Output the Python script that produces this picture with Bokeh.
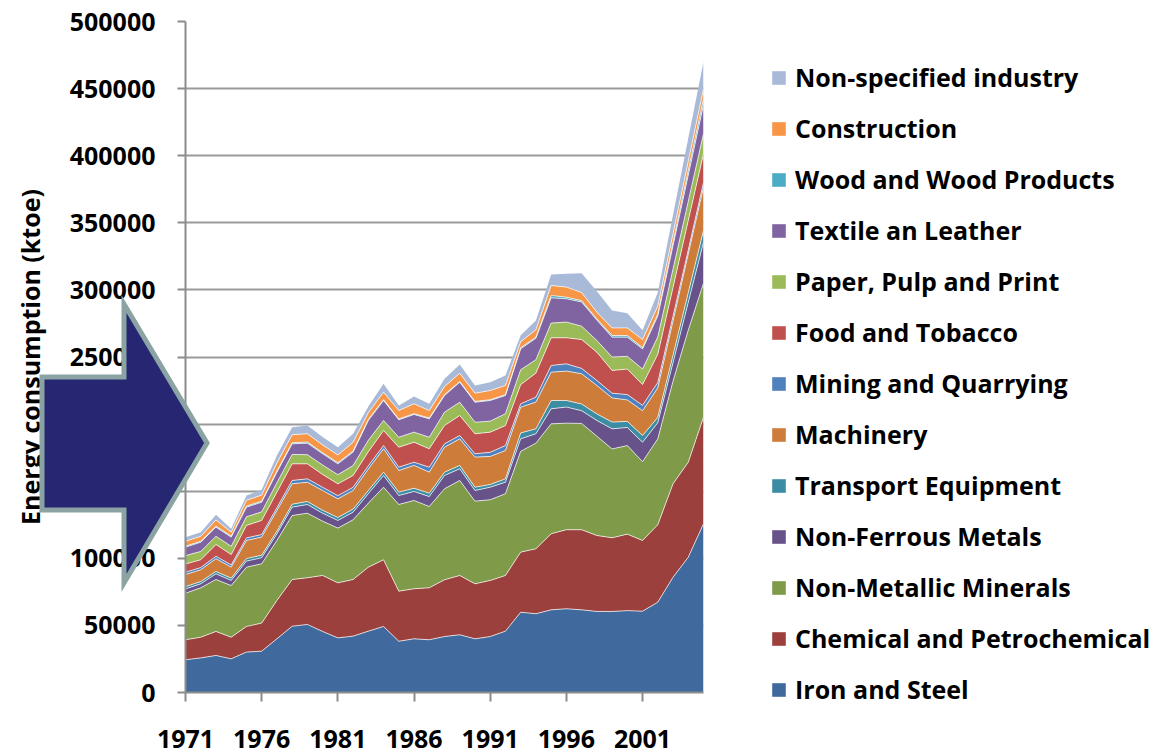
from bokeh.plotting import figure
from bokeh.models import (ColumnDataSource, Legend, LegendItem, FixedTicker, GridBox, Div,
                          SingleIntervalTicker, Range1d, BasicTickFormatter)
from bokeh.transform import stack
from bokeh.embed import file_html
from bokeh.resources import INLINE

years = list(range(1971, 2006))

iron_and_steel = [24400, 25800, 27600, 25100, 30100, 30800, 40000, 49400, 50700, 45500,
                  40700, 42000, 45700, 49200, 38200, 40000, 39300, 41700, 43000, 40000,
                  41700, 45700, 59800, 58700, 61600, 62400, 61600, 60400, 60400, 61000,
                  60600, 67300, 85900, 100800, 125700]
chemical = [14900, 15400, 17900, 16100, 19100, 20900, 28600, 34800, 34800, 41700,
            41000, 42200, 47700, 49700, 37300, 37300, 38700, 42300, 44200, 41000,
            41800, 41500, 44800, 48400, 56700, 58900, 59700, 56600, 54900, 57000,
            52700, 57700, 69600, 70800, 79400]
non_metallic = [34700, 36800, 38700, 38500, 44200, 44200, 44700, 47700, 48100, 40500,
                40800, 44500, 47700, 54100, 64600, 65800, 60600, 67800, 70800, 61600,
                60100, 60900, 75100, 78700, 81900, 79400, 79200, 74000, 66200, 66000,
                58700, 64000, 76500, 98400, 99900]
non_ferrous = [3200, 3000, 4200, 3800, 4500, 4500, 4900, 6200, 6500, 5900,
               5700, 5700, 7000, 8700, 6700, 6700, 7400, 9900, 8700, 7900,
               9400, 8600, 9300, 7000, 11200, 12000, 9500, 11700, 15000, 13500,
               14500, 12000, 13800, 20700, 30500]
transport = [1700, 1700, 1800, 1700, 1900, 1900, 2000, 2200, 2200, 2200,
             2200, 2300, 2400, 2500, 2500, 2400, 2500, 2500, 2500, 2500,
             2000, 2500, 4400, 3700, 6200, 4900, 5000, 4900, 5000, 4500,
             5000, 4000, 5600, 7200, 8800]
machinery = [9000, 8700, 9500, 8200, 13500, 13500, 15400, 15200, 14400, 14700,
             13900, 13800, 16000, 17400, 16100, 17000, 15700, 18600, 19800, 22400,
             20900, 21100, 19200, 19900, 21100, 21900, 22500, 21200, 18000, 16000,
             18500, 22000, 25400, 28800, 32200]
mining = [1700, 1700, 1800, 1700, 1900, 1900, 2100, 2500, 2500, 2400,
          2400, 2400, 2400, 2400, 2500, 2400, 3700, 2500, 2500, 2500,
          3100, 3700, 2500, 3700, 5000, 5400, 4000, 3700, 3500, 4000,
          4000, 4000, 3500, 3000, 3500]
food = [6200, 5800, 8800, 7700, 9300, 10500, 11600, 12400, 11200, 9600,
        8800, 8800, 10500, 11200, 14900, 14900, 13700, 13600, 14900, 14900,
        15000, 14900, 14300, 17900, 20600, 19400, 21500, 21100, 17000, 19000,
        15500, 21000, 21500, 22000, 21500]
paper = [6200, 6200, 6100, 6100, 6400, 6400, 7000, 7000, 6800, 7000,
         6800, 7400, 8500, 7500, 7400, 7500, 8600, 10000, 9900, 8600,
         8200, 8800, 11100, 10000, 11000, 11700, 10000, 8700, 10000, 9500,
         11500, 13000, 13700, 14200, 14900]
textile = [6300, 6900, 6800, 6900, 7200, 7200, 7900, 7900, 8600, 8400,
           8100, 10000, 14800, 14900, 13000, 13200, 13700, 12400, 14900, 14900,
           15400, 13600, 15600, 16000, 18800, 17400, 18000, 15200, 14800, 14300,
           15000, 15500, 17500, 19600, 21600]
wood = [700, 700, 800, 700, 800, 800, 800, 800, 800, 800,
        800, 900, 800, 600, 600, 600, 600, 600, 600, 600,
        600, 600, 800, 800, 1800, 1200, 1000, 900, 1200, 1200,
        1000, 1500, 2500, 3400, 4400]
construction = [3700, 3700, 4600, 3000, 4300, 4500, 6000, 6000, 6200, 5800,
                5800, 6400, 5000, 5600, 6300, 7300, 5600, 6100, 6100, 6100,
                6800, 6900, 4500, 5500, 7400, 7500, 6000, 5000, 5700, 5700,
                6000, 6000, 6400, 7000, 7400]
non_specified = [3000, 3100, 3800, 2500, 3600, 3900, 5600, 5600, 6200, 5800,
                 5800, 6400, 4600, 6200, 3800, 5500, 5000, 5700, 6500, 5800,
                 6200, 7400, 4800, 6900, 8200, 9900, 14500, 15600, 12900, 10900,
                 7000, 10000, 14100, 17100, 20200]

series_labels = ["Iron and Steel", "Chemical and Petrochemical", "Non-Metallic Minerals",
                 "Non-Ferrous Metals", "Transport Equipment", "Machinery",
                 "Mining and Quarrying", "Food and Tobacco", "Paper, Pulp and Print",
                 "Textile an Leather", "Wood and Wood Products", "Construction",
                 "Non-specified industry"]
series_values = [iron_and_steel, chemical, non_metallic, non_ferrous, transport, machinery,
                 mining, food, paper, textile, wood, construction, non_specified]
colors = ["#406A9E", "#9C403E", "#7F9A48", "#67528A", "#3C8DA3", "#CD7C3A",
          "#4F81BD", "#C0504D", "#9BBB59", "#8064A2", "#4BACC6", "#F79646", "#A9BAD9"]
x_ticks = [1971, 1976, 1981, 1986, 1991, 1996, 2001]

keys = ["s%d" % i for i in range(len(series_labels))]
data = {"year": years}
for k, v in zip(keys, series_values):
    data[k] = v
source = ColumnDataSource(data)

FONT = "Open Sans"
TOTAL_W, TOTAL_H = 1151, 755

p = figure(frame_width=518, frame_height=671,
           x_range=Range1d(1971, 2005), y_range=Range1d(0, 500000),
           output_backend="svg", toolbar_location=None,
           min_border_left=185, min_border_right=TOTAL_W - 185 - 518,
           min_border_top=21, min_border_bottom=TOTAL_H - 21 - 671)
p.outline_line_color = None
p.background_fill_color = "white"
p.border_fill_color = "white"

renderers = p.varea_stack(stackers=keys, x="year", color=colors, source=source)
for i in range(len(keys) - 1):
    p.line(x="year", y=stack(*keys[:i + 1]), source=source,
           line_color="white", line_alpha=0.7, line_width=1)

# grid and axes
p.xgrid.visible = False
p.ygrid.grid_line_color = "#9A9A9A"
p.ygrid.grid_line_width = 2

p.yaxis.ticker = SingleIntervalTicker(interval=50000)
p.yaxis.formatter = BasicTickFormatter(use_scientific=False)
p.xaxis.ticker = FixedTicker(ticks=x_ticks)
p.xaxis.minor_tick_line_color = None
p.yaxis.minor_tick_line_color = None

for ax in (p.xaxis, p.yaxis):
    ax.axis_line_color = "#8C8C8C"
    ax.axis_line_width = 2
    ax.major_tick_line_color = "#8C8C8C"
    ax.major_tick_line_width = 2
    ax.major_tick_in = 0
    ax.major_label_text_font = FONT
    ax.major_label_text_font_style = "bold"
    ax.major_label_text_font_size = "25px"
    ax.major_label_text_color = "black"

p.yaxis.major_tick_out = 8
p.yaxis.major_label_standoff = 22
p.xaxis.major_tick_out = 9
p.xaxis.major_label_standoff = 28

p.yaxis.axis_label = "Energy consumption (ktoe)"
p.yaxis.axis_label_text_font = FONT
p.yaxis.axis_label_text_font_style = "bold"
p.yaxis.axis_label_text_font_size = "25px"
p.yaxis.axis_label_text_color = "black"
p.yaxis.axis_label_standoff = 20

# legend (reverse order, like the reference)
items = [LegendItem(label=series_labels[i], renderers=[renderers[i]])
         for i in reversed(range(len(keys)))]
legend = Legend(items=items, location=(67, -14), orientation="vertical",
                label_text_font=FONT, label_text_font_style="bold",
                label_text_font_size="25px", label_text_color="black",
                glyph_width=17, glyph_height=17, label_height=34,
                label_standoff=8, spacing=17, padding=0, margin=0,
                border_line_alpha=0, background_fill_alpha=0)
p.add_layout(legend, "right")

# decorative arrow: a transparent overlay in the same grid cell as the chart
arrow_x = [37, 119, 119, 202, 119, 119, 37]
arrow_y = [372, 372, 299, 438, 578, 505, 505]
pts = " ".join("%d,%d" % (x, y) for x, y in zip(arrow_x, arrow_y))
svg = ('<svg xmlns="http://www.w3.org/2000/svg" width="%d" height="%d" '
       'style="display:block;position:absolute;left:0;top:0">'
       '<polygon points="%s" fill="#262673" stroke="#8BA3A3" stroke-width="5" '
       'stroke-linejoin="miter"/></svg>') % (TOTAL_W, TOTAL_H, pts)
overlay = Div(text=svg, width=TOTAL_W, height=TOTAL_H)

layout = GridBox(children=[(p, 0, 0), (overlay, 0, 0)])
open("out.html", "w").write(file_html(layout, INLINE))
